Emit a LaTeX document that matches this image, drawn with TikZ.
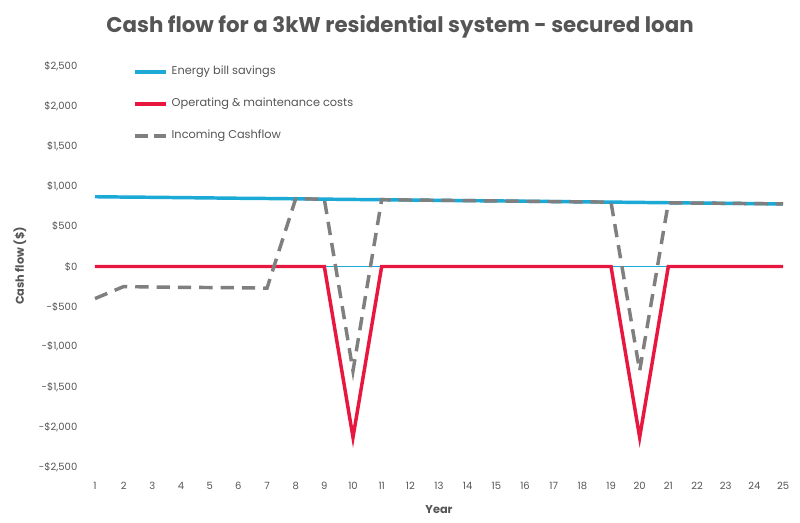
\documentclass[tikz,border=0pt]{standalone}
\usepackage{fontspec}
\setmainfont{Poppins}
\usetikzlibrary{positioning}
\definecolor{savecol}{HTML}{1BA9D6}
\definecolor{omcol}{HTML}{E8173F}
\definecolor{cashcol}{HTML}{7F7F7F}
\definecolor{txtcol}{HTML}{555555}
\tikzset{
  tick/.style={font=\fontsize{7.5}{9}\selectfont,text=txtcol},
  savingsline/.style={savecol,line width=2.6pt},
  omline/.style={omcol,line width=2.6pt},
  cashline/.style={cashcol,line width=2.6pt,dash pattern=on 10pt off 6pt},
  legtext/.style={font=\fontsize{8.5}{10}\selectfont,text=txtcol,anchor=west}
}
\begin{document}
\begin{tikzpicture}[x=0.75pt,y=-0.75pt]
  \useasboundingbox[fill=white] (0,0) rectangle (800,522);
  \node[font=\bfseries\fontsize{16}{19}\selectfont,text=txtcol] (title) at (400,27) {Cash flow for a 3kW residential system - secured loan};
  \node[font=\bfseries\fontsize{8.5}{10}\selectfont,text=txtcol,rotate=90] (ylab) at (20,266) {Cash flow (\$)};
  \node[font=\bfseries\fontsize{8.5}{10}\selectfont,text=txtcol] (xlab) at (439,510) {Year};
  % axis labels
  \foreach \v/\t [count=\i from 0] in {2500/{\$2,500},2000/{\$2,000},1500/{\$1,500},1000/{\$1,000},500/{\$500},0/{\$0},-500/{-\$500},-1000/{-\$1,000},-1500/{-\$1,500},-2000/{-\$2,000},-2500/{-\$2,500}}
    \node[tick,anchor=east] (yt\i) at (82,{266.5-\v*0.0802}) {\t};
  \foreach \n in {1,...,25}
    \node[tick] (xt\n) at ({95+(\n-1)*28.67},486) {\n};
  % data
  \begin{scope}[shift={(66.33,266.5)},x=21.5pt,y=0.06015pt]
    \draw[savecol,line width=0.4pt] (1,0) -- (25,0);
    \draw[savingsline] plot coordinates {(1,870) (2,866) (3,863) (4,859) (5,855) (6,851) (7,848) (8,844) (9,840) (10,836) (11,833) (12,829) (13,825) (14,821) (15,818) (16,814) (17,810) (18,806) (19,803) (20,799) (21,795) (22,791) (23,788) (24,784) (25,780)};
    \draw[omline] plot coordinates {(1,0) (9,0) (10,-2130) (11,0) (19,0) (20,-2130) (21,0) (25,0)};
    \draw[cashline] plot coordinates {(1,-400) (2,-250) (3,-255) (4,-260) (5,-262) (6,-265) (7,-270) (8,844) (9,840) (10,-1300) (11,833) (12,829) (13,825) (14,821) (15,818) (16,814) (17,810) (18,806) (19,803) (20,-1300) (21,795) (22,791) (23,788) (24,784) (25,780)};
  \end{scope}
  % legend
  \coordinate (l1a) at (135,72); \coordinate (l1b) at (166,72);
  \coordinate (l2a) at (135,104); \coordinate (l2b) at (166,104);
  \coordinate (l3a) at (135,136); \coordinate (l3b) at (166,136);
  \draw[savingsline] (l1a) -- (l1b);
  \draw[omline] (l2a) -- (l2b);
  \draw[cashline,dash pattern=on 10pt off 4pt] (l3a) -- (l3b);
  \node[legtext] (leg1) at (167,72) {Energy bill savings};
  \node[legtext] (leg2) at (167,104) {Operating \& maintenance costs};
  \node[legtext] (leg3) at (167,136) {Incoming Cashflow};
\end{tikzpicture}
\end{document}
